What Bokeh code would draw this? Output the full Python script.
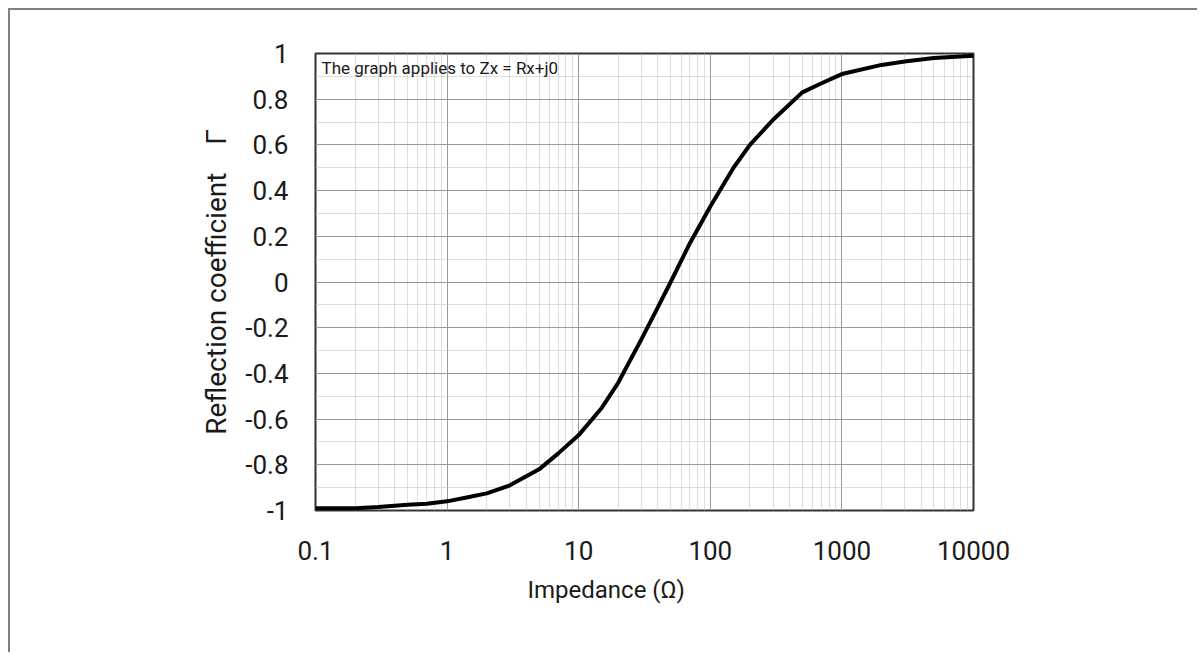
from bokeh.plotting import figure
from bokeh.models import FixedTicker, CustomJSTickFormatter, Label, Title
from bokeh.embed import file_html
from bokeh.resources import INLINE

# Data
impedance = [0.1, 0.2, 0.3, 0.5, 0.7, 1, 1.5, 2, 3, 5, 7, 10, 15, 20, 30, 40, 50,
             70, 100, 150, 200, 300, 500, 700, 1000, 2000, 3000, 5000, 10000]
gamma = [-0.99, -0.99, -0.985, -0.975, -0.97, -0.96, -0.94, -0.925, -0.89, -0.82,
         -0.75, -0.67, -0.55, -0.44, -0.25, -0.11, 0.0, 0.17, 0.33, 0.5, 0.6,
         0.71, 0.83, 0.87, 0.91, 0.95, 0.965, 0.98, 0.99]

x_major = [0.1, 1, 10, 100, 1000, 10000]
x_minor = [m * d for d in [0.1, 1, 10, 100, 1000] for m in range(2, 10)]
y_major = [-1, -0.8, -0.6, -0.4, -0.2, 0, 0.2, 0.4, 0.6, 0.8, 1]
y_minor = [-0.9, -0.7, -0.5, -0.3, -0.1, 0.1, 0.3, 0.5, 0.7, 0.9]

x_title = "Impedance (Ω)"
y_title = "Reflection coefficient\u00a0\u00a0\u00a0\u00a0Γ"
note = "The graph applies to Zx = Rx+j0"

FONT = "Roboto"
TXT = "#1a1a1a"

p = figure(width=1189, height=644, x_axis_type="log", x_range=(0.1, 10000), y_range=(-1, 1),
           output_backend="svg", toolbar_location=None,
           min_border_left=305, min_border_right=226, min_border_top=43, min_border_bottom=144)
p.styles = {"margin-left": "8px", "margin-top": "8px",
            "border-top": "2px solid #7f7f7f", "border-left": "2px solid #7f7f7f"}
p.background_fill_color = "white"
p.border_fill_color = "white"
p.outline_line_color = "#333333"
p.outline_line_width = 2

fmt = CustomJSTickFormatter(code="return String(tick)")

p.xaxis.ticker = FixedTicker(ticks=x_major, minor_ticks=x_minor)
p.yaxis.ticker = FixedTicker(ticks=y_major, minor_ticks=y_minor)
for ax in (p.xaxis[0], p.yaxis[0]):
    ax.formatter = fmt
    ax.axis_line_color = None
    ax.major_tick_line_color = None
    ax.minor_tick_line_color = None
    ax.major_label_text_font = FONT
    ax.major_label_text_font_size = "26px"
    ax.major_label_text_color = TXT
p.xaxis.major_label_standoff = 24
p.yaxis.major_label_standoff = 21

p.yaxis.axis_label = y_title
p.yaxis.axis_label_text_font = FONT
p.yaxis.axis_label_text_font_size = "28px"
p.yaxis.axis_label_text_font_style = "normal"
p.yaxis.axis_label_text_color = TXT
p.yaxis.axis_label_standoff = 9

p.add_layout(Title(text=x_title, align="left", offset=212, text_font=FONT,
                   text_font_size="24px", text_font_style="normal", text_color=TXT,
                   standoff=22), "below")

p.xgrid.grid_line_color = "#999999"
p.xgrid.grid_line_width = 1
p.xgrid.minor_grid_line_color = "#bdbdbd"
p.xgrid.minor_grid_line_dash = "1 1"
p.ygrid.grid_line_color = "#999999"
p.ygrid.grid_line_width = 1
p.ygrid.minor_grid_line_color = "#bdbdbd"
p.ygrid.minor_grid_line_dash = "1 1"

p.line(impedance, gamma, line_color="black", line_width=4)

p.add_layout(Label(x=0.1, y=1, x_offset=6, y_offset=-14, text=note, text_font=FONT,
                   text_font_size="17px", text_baseline="middle", text_color=TXT))

open("out.html", "w").write(file_html(p, INLINE))
